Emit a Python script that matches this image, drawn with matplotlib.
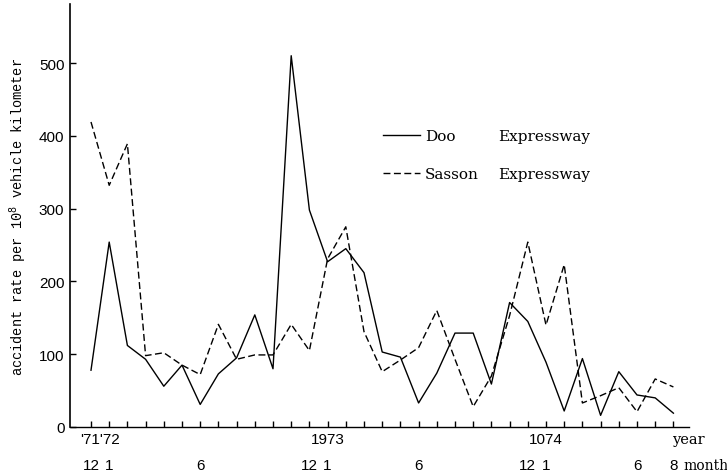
import numpy as np
import matplotlib
matplotlib.use('Agg')
import matplotlib.pyplot as plt

# monthly accident rate, Dec 1971 .. Aug 1974
doo = [78, 254, 112, 93, 56, 85, 31, 73, 95, 154, 80, 510, 298, 227, 245, 212, 103,
       96, 33, 74, 129, 129, 59, 171, 145, 89, 22, 94, 16, 76, 44, 40, 19]
sasson = [419, 332, 389, 98, 102, 85, 72, 141, 93, 99, 99, 141, 105, 231, 275, 131, 76,
          92, 109, 160, 93, 28, 70, 153, 254, 140, 223, 33, 43, 54, 21, 66, 55]
month_idx = [0, 1, 6, 12, 13, 18, 24, 25, 30, 32]
month_lab = ['12', '1', '6', '12', '1', '6', '12', '1', '6', '8']
year_idx = [0.5, 13, 25]
year_lab = ["'71'72", '1973', '1074']
y_ticks = [0, 100, 200, 300, 400, 500]

num_font = ['Liberation Sans', 'DejaVu Sans']
serif = ['DejaVu Serif']
mono = ['Liberation Mono', 'DejaVu Sans Mono']

x = np.arange(len(doo))

fig = plt.figure(figsize=(7.27, 4.77), dpi=100)
ax = fig.add_axes([70/727, 1-428/477, (689-70)/727, (428-5)/477])

l1, = ax.plot(x, doo, color='black', lw=1.0)
l2, = ax.plot(x, sasson, color='black', lw=1.0, dashes=(5, 2.5))

ax.set_xlim(-(91-70)/18.2, (689-91)/18.2)
ax.set_ylim(0, (428-5)/0.728)
for s in ['top', 'right']:
    ax.spines[s].set_visible(False)
ax.spines['left'].set_linewidth(1.2)
ax.spines['bottom'].set_linewidth(1.0)

ax.set_xticks(x)
ax.set_xticklabels([])
ax.tick_params(axis='x', direction='in', length=4, width=1)
ax.set_yticks(y_ticks)
ax.set_yticklabels([str(v) for v in y_ticks], family=num_font, fontsize=11)
ax.tick_params(axis='y', direction='in', length=4, width=1, pad=4)

tr = ax.get_xaxis_transform()
for i, lab in zip(year_idx, year_lab):
    ax.text(i, -0.012, lab, transform=tr, ha='center', va='top',
            family=num_font, fontsize=11)
for i, lab in zip(month_idx, month_lab):
    ax.text(i, -0.073, lab, transform=tr, ha='center', va='top',
            family=num_font, fontsize=11)
ax.text(31.9, -0.012, 'year', transform=tr, ha='left', va='top',
        family=serif, fontsize=10.5)
ax.text(32.55, -0.073, 'month', transform=tr, ha='left', va='top',
        family=serif, fontsize=10)

ax.set_ylabel('accident rate per 10$^8$ vehicle kilometer', family=mono,
              fontsize=9.8, labelpad=7)

leg = ax.legend([l1, l2], ['Doo', 'Sasson'], loc='upper left',
                bbox_to_anchor=(383/727, 1-130/477), bbox_transform=fig.transFigure,
                frameon=False, prop={'family': serif, 'size': 11},
                handlelength=2.4, handletextpad=0.35, labelspacing=1.6,
                borderpad=0, borderaxespad=0)
fig.text(498/727, 1-137/477, 'Expressway', family=serif, fontsize=11,
         ha='left', va='center')
fig.text(498/727, 1-175/477, 'Expressway', family=serif, fontsize=11,
         ha='left', va='center')

fig.savefig('out.png', dpi=100)
